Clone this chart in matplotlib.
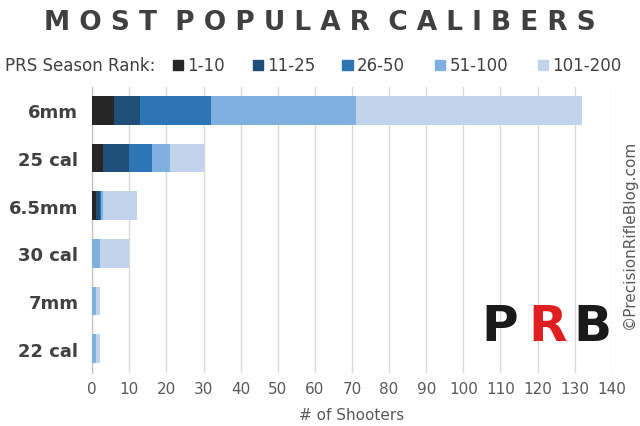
import matplotlib
matplotlib.use("Agg")
import matplotlib.pyplot as plt
import numpy as np

calibers = ["6mm", "25 cal", "6.5mm", "30 cal", "7mm", "22 cal"]
ranks = ["1-10", "11-25", "26-50", "51-100", "101-200"]
r1_10 = [6, 3, 1, 0, 0, 0]
r11_25 = [7, 7, 1, 0, 0, 0]
r26_50 = [19, 6, 0.5, 0, 0, 0]
r51_100 = [39, 5, 0.5, 2, 1, 1]
r101_200 = [61, 9, 9, 8, 1, 1]
xticks = list(range(0, 141, 10))
colors = ["#262626", "#1f4e79", "#2e75b6", "#7fb0df", "#c2d4ec"]

fig = plt.figure(figsize=(6.4, 4.27), dpi=100)
ax = fig.add_axes([0.144, 0.125, 0.812, 0.67])
y = np.arange(len(calibers))
left = np.zeros(len(calibers))
for vals, c, lab in zip([r1_10, r11_25, r26_50, r51_100, r101_200], colors, ranks):
    ax.barh(y, vals, left=left, color=c, height=0.6, label=lab, zorder=3)
    left += np.array(vals)
ax.set_ylim(len(calibers) - 0.5, -0.5)
ax.set_yticks(y)
ax.set_yticklabels(calibers, fontsize=13, fontweight="bold", color="#404040")
ax.set_xlim(0, 140)
ax.set_xticks(xticks)
ax.tick_params(axis="x", labelsize=11, colors="#595959", length=0, pad=6)
ax.tick_params(axis="y", length=0, pad=10)
ax.grid(axis="x", color="#d9d9d9", lw=1, zorder=0)
for s in ["top", "right", "bottom"]:
    ax.spines[s].set_visible(False)
ax.spines["left"].set_color("#bfbfbf")
ax.set_xlabel("# of Shooters", fontsize=11, color="#595959", labelpad=8)

fig.text(0.5, 0.945, "M o s t   P o p u l a r   C a l i b e r s".upper().replace("   ", "  "),
         ha="center", va="center", fontsize=19, fontweight="bold", color="#404040")
fig.text(0.008, 0.845, "PRS Season Rank:", fontsize=12, color="#404040", va="center")
xs = [0.27, 0.395, 0.535, 0.68, 0.84]
for xx, c, lab in zip(xs, colors, ranks):
    fig.patches.append(plt.Rectangle((xx, 0.833), 0.016, 0.025, color=c, transform=fig.transFigure))
    fig.text(xx + 0.022, 0.845, lab, fontsize=12, color="#404040", va="center")

fig.text(0.983, 0.45, "©PrecisionRifleBlog.com", rotation=90, ha="center", va="center",
         fontsize=11, color="#595959")
fig.text(0.78, 0.235, "P", fontsize=36, fontweight="bold", color="#1a1a1a", va="center", ha="center")
fig.text(0.855, 0.235, "R", fontsize=36, fontweight="bold", color="#e02020", va="center", ha="center")
fig.text(0.925, 0.235, "B", fontsize=36, fontweight="bold", color="#1a1a1a", va="center", ha="center")
fig.savefig("out.png", dpi=100)
